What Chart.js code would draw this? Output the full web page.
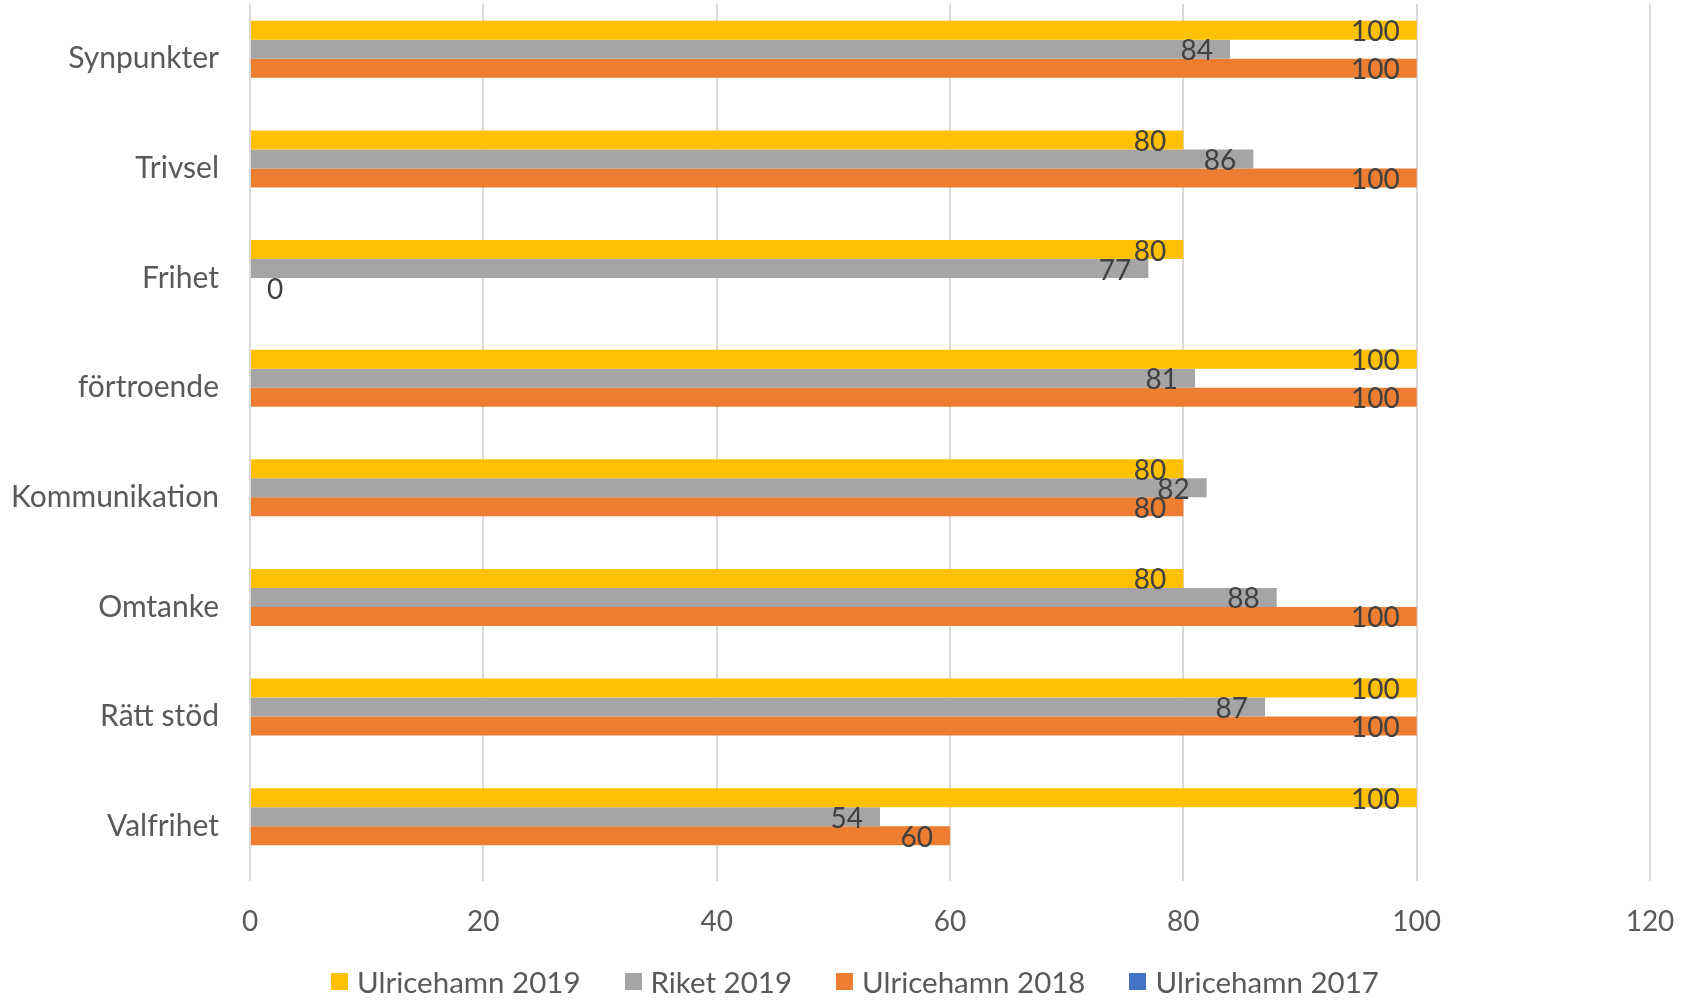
<!DOCTYPE html>
<html>
<head>
<meta charset="utf-8">
<script src="https://cdn.jsdelivr.net/npm/chart.js@4.4.1/dist/chart.umd.min.js"></script>
<style>
  body { margin: 0; background: #fff; }
  #wrap { position: relative; width: 1682px; height: 1002px; }
  #legend {
    position: absolute; left: 28px; top: 964px; width: 1654px;
    display: flex; justify-content: center; align-items: center;
    font-family: Lato, sans-serif; font-size: 29.5px; color: #595959;
  }
  #legend .item { display: flex; align-items: center; margin: 0 22px; }
  #legend .box { width: 17px; height: 17px; margin-right: 9px; }
</style>
</head>
<body>
<div id="wrap">
  <canvas id="chart" width="1682" height="1002"></canvas>
  <div id="legend"></div>
</div>
<script>
// Data
const categories = ["Synpunkter", "Trivsel", "Frihet", "förtroende", "Kommunikation", "Omtanke", "Rätt stöd", "Valfrihet"];
const ulricehamn2019 = [100, 80, 80, 100, 80, 80, 100, 100];
const riket2019 = [84, 86, 77, 81, 82, 88, 87, 54];
const ulricehamn2018 = [100, 100, 0, 100, 80, 100, 100, 60];
const ulricehamn2017 = [null, null, null, null, null, null, null, null];
const xTicks = [0, 20, 40, 60, 80, 100, 120];

const seriesNames = ["Ulricehamn 2019", "Riket 2019", "Ulricehamn 2018", "Ulricehamn 2017"];
const seriesColors = ['#FFC000', '#A5A5A5', '#ED7D31', '#4472C4'];
const seriesData = [ulricehamn2019, riket2019, ulricehamn2018, ulricehamn2017];

const FONT = 'Lato, sans-serif';

// simple value labels at the inside end of each bar
const barLabels = {
    id: 'barLabels',
    afterDatasetsDraw(chart) {
        const ctx = chart.ctx;
        ctx.save();
        ctx.font = '28px ' + FONT;
        ctx.fillStyle = '#404040';
        ctx.textBaseline = 'middle';
        chart.data.datasets.forEach((ds, i) => {
            const meta = chart.getDatasetMeta(i);
            meta.data.forEach((bar, j) => {
                const v = ds.data[j];
                if (v === null || v === undefined) return;
                if (v === 0) {
                    ctx.textAlign = 'left';
                    ctx.fillText(String(v), bar.x + 17, bar.y + 2);
                } else {
                    ctx.textAlign = 'right';
                    ctx.fillText(String(v), bar.x - 17, bar.y + 2);
                }
            });
        });
        ctx.restore();
    }
};

const ctx = document.getElementById("chart");
new Chart(ctx, {
    type: 'bar',
    data: {
        labels: categories,
        datasets: seriesData.map((d, i) => ({
            label: seriesNames[i],
            data: d,
            backgroundColor: seriesColors[i],
            categoryPercentage: 0.693,
            barPercentage: 1.0,
        })),
    },
    options: {
        indexAxis: 'y',
        responsive: false,
        animation: false,
        layout: { padding: { top: 4, right: 32, left: 0, bottom: 0 } },
        plugins: {
            legend: { display: false },
            tooltip: { enabled: false },
        },
        scales: {
            x: {
                min: 0, max: 120,
                afterBuildTicks: (scale) => { scale.ticks = xTicks.map(v => ({ value: v })); },
                afterFit: (scale) => {
                    scale.height = 121;
                    scale.paddingLeft = 0;
                    scale.paddingRight = 0;
                },
                grid: { color: '#D9D9D9', lineWidth: 2, drawTicks: false },
                border: { display: false },
                ticks: { color: '#595959', font: { family: FONT, size: 28 }, padding: 24 },
            },
            y: {
                afterFit: (scale) => {
                    scale.width = 250;
                    scale.paddingTop = 0;
                    scale.paddingBottom = 0;
                },
                grid: { display: false, drawTicks: false },
                border: { display: false },
                ticks: { color: '#595959', font: { family: FONT, size: 30 }, padding: 31 },
            },
        },
    },
    plugins: [barLabels],
});

// legend
const legendEl = document.getElementById('legend');
seriesNames.forEach((name, i) => {
    const item = document.createElement('div');
    item.className = 'item';
    item.innerHTML = '<div class="box" style="background:' + seriesColors[i] + '"></div><span>' + name + '</span>';
    legendEl.appendChild(item);
});
</script>
</body>
</html>
